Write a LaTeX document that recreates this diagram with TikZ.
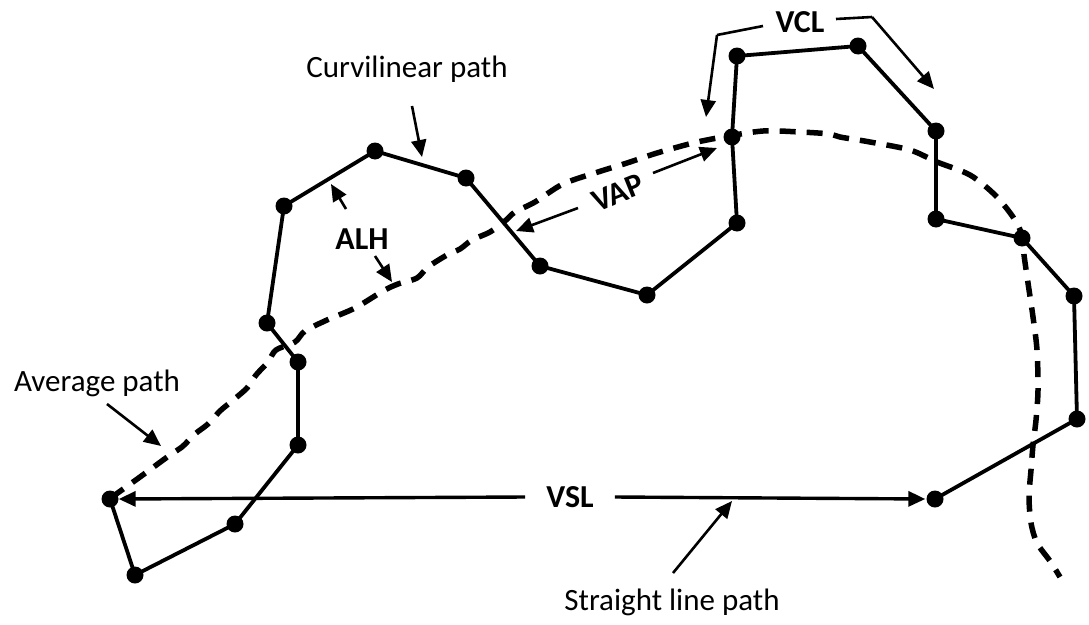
\documentclass[tikz,border=0pt]{standalone}
\usepackage{fontspec}
\setmainfont{Carlito}
\usetikzlibrary{arrows.meta}
\begin{document}
\begin{tikzpicture}[x=1pt,y=-1pt,
 dot/.style={circle,fill=black,inner sep=0pt,minimum size=17pt},
 curv/.style={line width=3.8pt,line join=round},
 avg/.style={line width=5.5pt,dash pattern=on 16pt off 11pt,dash phase=2pt},
 lbl/.style={font=\fontsize{31}{36}\selectfont,inner sep=0pt},
 blbl/.style={font=\fontsize{32}{38}\selectfont\bfseries,inner sep=0pt},
 ptr/.style={line width=2.6pt,-{Triangle[length=17pt,width=15pt]}},
 bline/.style={line width=2.6pt}]
\useasboundingbox (0,0) rectangle (1089,624);
% dots of the curvilinear path
\node[dot] (p1) at (110,499) {};
\node[dot] (p2) at (135,575) {};
\node[dot] (p3) at (235,524) {};
\node[dot] (p4) at (298,445) {};
\node[dot] (p5) at (298,362) {};
\node[dot] (p6) at (267,323) {};
\node[dot] (p7) at (284,206) {};
\node[dot] (p8) at (375,151) {};
\node[dot] (p9) at (466,178) {};
\node[dot] (p10) at (540,266) {};
\node[dot] (p11) at (647,295) {};
\node[dot] (p12) at (737,223) {};
\node[dot] (p13) at (732,137) {};
\node[dot] (p14) at (737,56) {};
\node[dot] (p15) at (858,46) {};
\node[dot] (p16) at (936,131) {};
\node[dot] (p17) at (936,219) {};
\node[dot] (p18) at (1022,238) {};
\node[dot] (p19) at (1074,296) {};
\node[dot] (p20) at (1077,419) {};
\node[dot] (p21) at (935,499) {};
\draw[curv] (p1.center) -- (p2.center) -- (p3.center) -- (p4.center) -- (p5.center)
  -- (p6.center) -- (p7.center) -- (p8.center) -- (p9.center) -- (p10.center)
  -- (p11.center) -- (p12.center) -- (p13.center) -- (p14.center) -- (p15.center)
  -- (p16.center) -- (p17.center) -- (p18.center) -- (p19.center) -- (p20.center)
  -- (p21.center);
% average path
\draw[avg] plot[smooth,tension=0.5] coordinates {(112,497) (140,477) (170,455) (182,447)
  (195,434) (208,424) (220,411) (232,401) (247,388) (256,375) (268,362) (276,350)
  (295,342) (305,331) (327,320) (355,308) (383,291) (398,284) (417,278) (428,267)
  (447,255) (460,249) (472,240) (490,232) (505,221) (515,212) (535,202) (563,184)
  (598,172) (627,163) (657,153) (693,143) (723,137) (763,131) (800,132) (830,134)
  (840,137) (870,142) (910,150) (937,162) (970,175) (995,195) (1013,217) (1022,235)
  (1024,255) (1028,283) (1033,317) (1037,350) (1038,390) (1036,420) (1033,445)
  (1031,470) (1029,497) (1031,523) (1037,543) (1050,561) (1060,577)};
% labels
\node[lbl] (curvl) at (407,69) {Curvilinear path};
\node[lbl] (avgl) at (97,383) {Average path};
\node[lbl] (slpl) at (672,602) {Straight line path};
\node[blbl] (alh) at (362,239) {ALH};
\node[blbl,rotate=22] (vap) at (618,193) {VAP};
\node[blbl] (vcl) at (800,22) {VCL};
\node[blbl,inner xsep=21pt] (vsl) at (570,497) {VSL};
% pointer arrows
\coordinate (c1) at (412,106);
\coordinate (c1t) at (422,157);
\draw[ptr] (c1) -- (c1t);
\coordinate (a1) at (346,209);
\coordinate (a1t) at (331,184);
\draw[ptr] (a1) -- (a1t);
\coordinate (a2) at (375,256);
\coordinate (a2t) at (392,282);
\draw[ptr] (a2) -- (a2t);
\coordinate (v1) at (653,173);
\coordinate (v1t) at (717,148);
\draw[ptr] (v1) -- (v1t);
\coordinate (v2) at (578,208);
\coordinate (v2t) at (516,231);
\draw[ptr] (v2) -- (v2t);
\coordinate (l1) at (763,26);
\coordinate (l1b) at (717,35);
\coordinate (l1t) at (706,117);
\draw[bline] (l1) -- (l1b);
\draw[ptr] (l1b) -- (l1t);
\coordinate (r1) at (836,19);
\coordinate (r1b) at (872,17);
\coordinate (r1t) at (934,89);
\draw[bline] (r1) -- (r1b);
\draw[ptr] (r1b) -- (r1t);
\coordinate (g1) at (107,404);
\coordinate (g1t) at (161,446);
\draw[ptr] (g1) -- (g1t);
\draw[ptr,line width=3.4pt] (vsl.west) -- (p1.east);
\draw[ptr,line width=3.4pt,shorten >=1pt] (vsl.east) -- (p21.west);
\coordinate (s1) at (673,573);
\coordinate (s1t) at (732,501);
\draw[ptr] (s1) -- (s1t);
\end{tikzpicture}
\end{document}
